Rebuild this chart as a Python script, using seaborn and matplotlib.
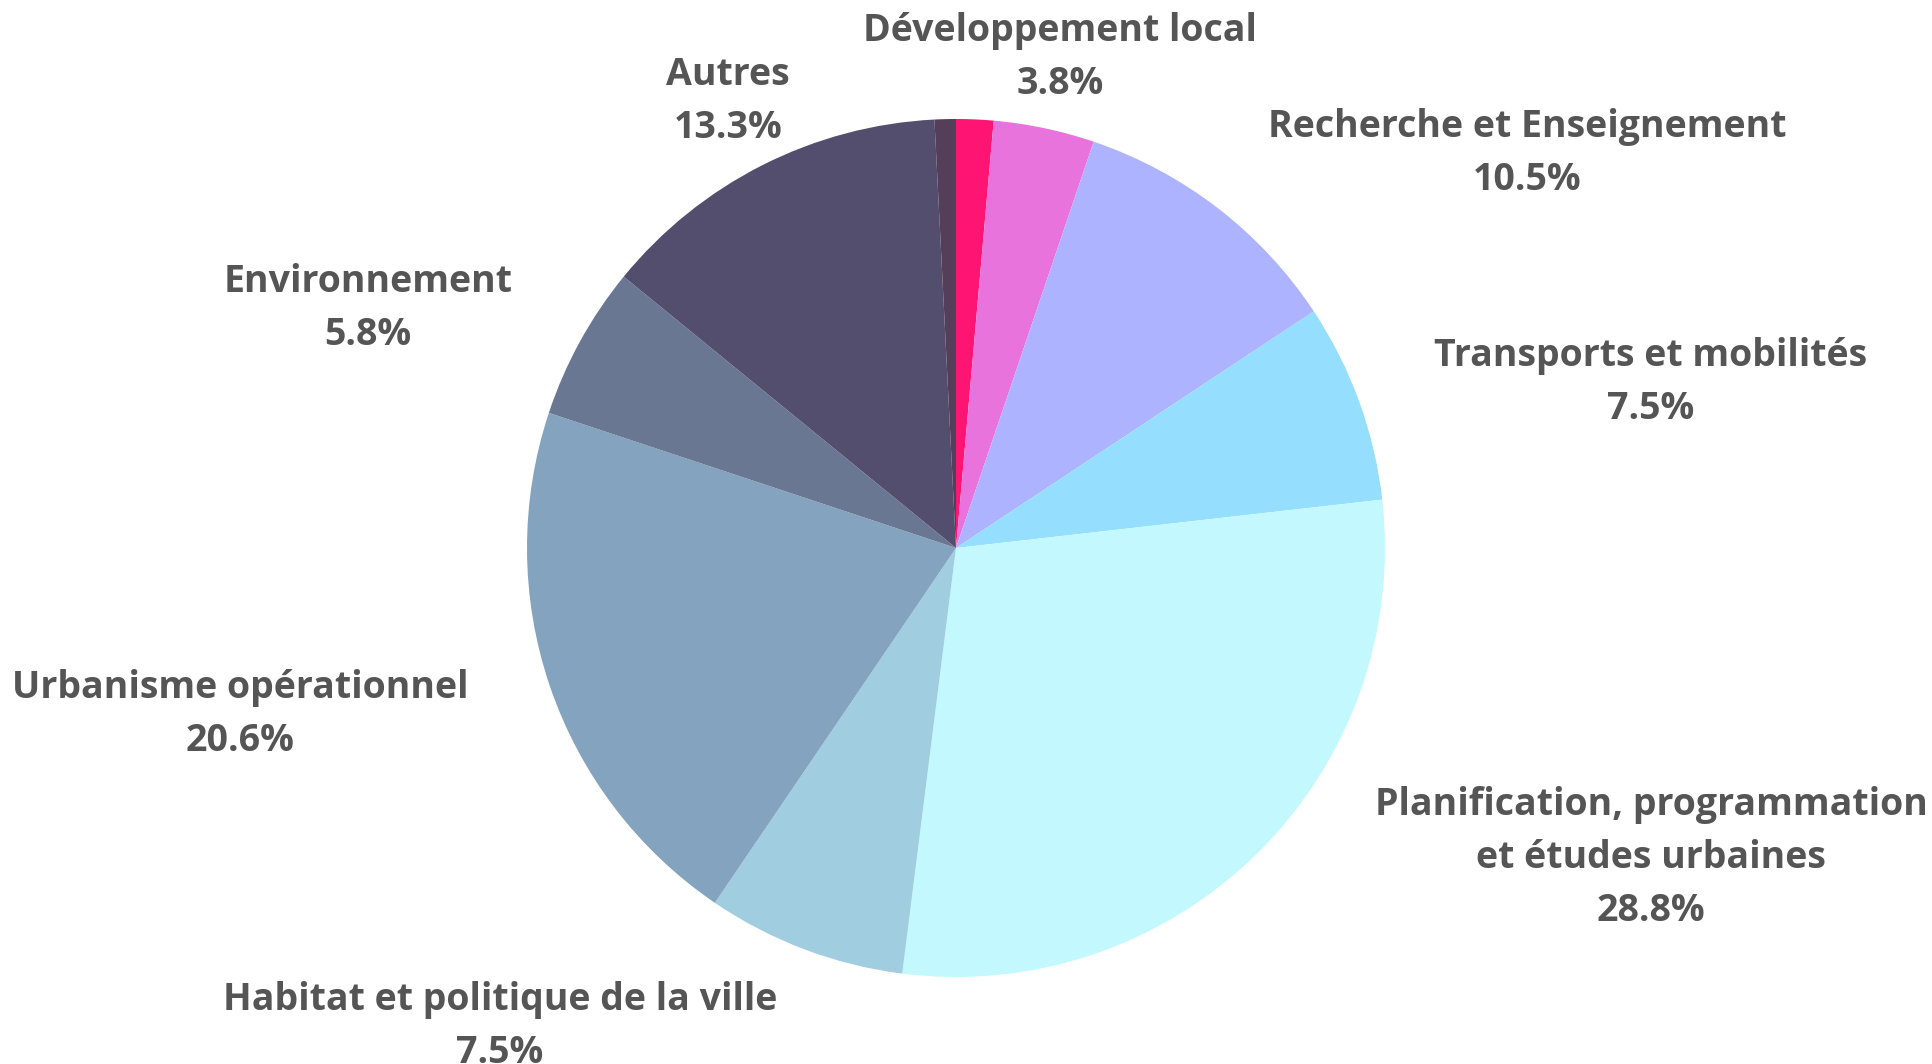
import matplotlib
matplotlib.use("Agg")
import matplotlib.pyplot as plt
import seaborn as sns

sns.set_theme(style="white")
plt.rcParams['font.family'] = ['Open Sans', 'DejaVu Sans']

categories = ["Non précisé", "Développement local", "Recherche et Enseignement",
              "Transports et mobilités", "Planification, programmation\net études urbaines",
              "Habitat et politique de la ville", "Urbanisme opérationnel",
              "Environnement", "Autres", "Divers"]
values = [1.4, 3.8, 10.5, 7.5, 28.8, 7.5, 20.6, 5.8, 13.3, 0.8]
show_label = [False, True, True, True, True, True, True, True, True, False]
colors = ["#FE1574", "#E873DC", "#ADB3FE", "#96DEFE", "#C3F9FE",
          "#A1CDE0", "#84A3BE", "#6A7793", "#534E6E", "#543E5A"]

# label anchor positions in pixels (x centre, y of first line) - layout only
label_pos = {
    "Développement local": (1060, 31),
    "Recherche et Enseignement": (1527, 127),
    "Transports et mobilités": (1651, 356),
    "Planification, programmation\net études urbaines": (1651, 805),
    "Habitat et politique de la ville": (500, 1000),
    "Urbanisme opérationnel": (240, 688),
    "Environnement": (368, 282),
    "Autres": (728, 75),
}

W, H = 1932, 1064
fig = plt.figure(figsize=(W / 100, H / 100), dpi=100)
cx, cy, r = 956, 548, 429
ax = fig.add_axes([(cx - r) / W, 1 - (cy + r) / H, 2 * r / W, 2 * r / H])
ax.pie(values, colors=colors, startangle=90, counterclock=False,
       wedgeprops=dict(linewidth=0), radius=1)
ax.set_xlim(-1, 1)
ax.set_ylim(-1, 1)
ax.set_aspect('equal')
ax.axis('off')

line_h = 53
for cat, val, show in zip(categories, values, show_label):
    if not show:
        continue
    x, y = label_pos[cat]
    lines = cat.split("\n") + [f"{val:.1f}%"]
    for i, ln in enumerate(lines):
        fig.text(x / W, 1 - (y + i * line_h) / H, ln, ha="center", va="center",
                 fontsize=27, fontweight="bold", color="#555555")

fig.savefig("out.png", dpi=100, facecolor="white")
